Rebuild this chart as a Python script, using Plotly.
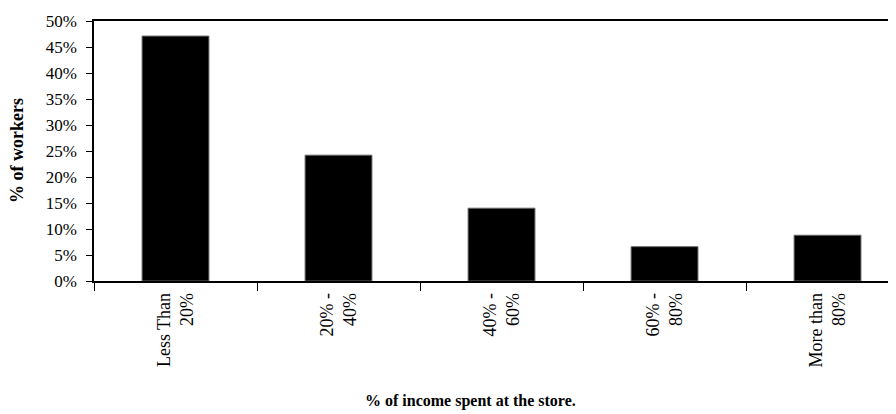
import plotly.graph_objects as go

categories = ["Less Than<br>20%", "20% -<br>40%", "40% -<br>60%", "60% -<br>80%", "More than<br>80%"]
values = [47.1, 24.2, 14.0, 6.6, 8.8]
y_ticks = [0, 5, 10, 15, 20, 25, 30, 35, 40, 45, 50]
y_tick_labels = [f"{v}%" for v in y_ticks]

FONT = "Liberation Serif, Times New Roman, serif"

fig = go.Figure()
fig.add_trace(go.Bar(
    x=categories, y=values, width=0.41,
    marker=dict(color="black", line=dict(color="#666666", width=1)),
    hoverinfo="skip",
))

# page body has an 8px margin, so the figure is offset by 8px; compensate
fig.update_layout(
    width=888, height=406,
    margin=dict(l=86, r=0, t=13, b=133),
    paper_bgcolor="white", plot_bgcolor="white",
    showlegend=False,
    font=dict(family=FONT, size=17, color="black"),
    xaxis=dict(
        type="category", range=[-0.5, 4.42],
        tickson="boundaries", ticks="outside", ticklen=8, tickcolor="black",
        tickangle=-90, showline=True, linecolor="black", linewidth=1.5,
        mirror=True, showgrid=False, zeroline=False, automargin=False,
        ticklabelstandoff=3,
        tickfont=dict(family=FONT, size=18, color="black"),
    ),
    yaxis=dict(
        range=[0, 50], tickvals=y_ticks, ticktext=y_tick_labels,
        ticks="outside", ticklen=6, tickcolor="black", ticklabelstandoff=6,
        showline=True, linecolor="black", linewidth=1.5,
        showgrid=False, zeroline=False, automargin=False,
        tickfont=dict(family=FONT, size=17, color="black"),
    ),
    annotations=[
        dict(text="<b>% of workers</b>", x=-0.096, y=0.5, xref="paper", yref="paper",
             xanchor="center", yanchor="middle", textangle=-90, showarrow=False,
             font=dict(family=FONT, size=18, color="black")),
        dict(text="<b>% of income spent at the store.</b>", x=0.469, y=-0.4615,
             xref="paper", yref="paper", xanchor="center", yanchor="middle",
             showarrow=False, font=dict(family=FONT, size=16, color="black")),
    ],
)

fig.write_html("out.html")
